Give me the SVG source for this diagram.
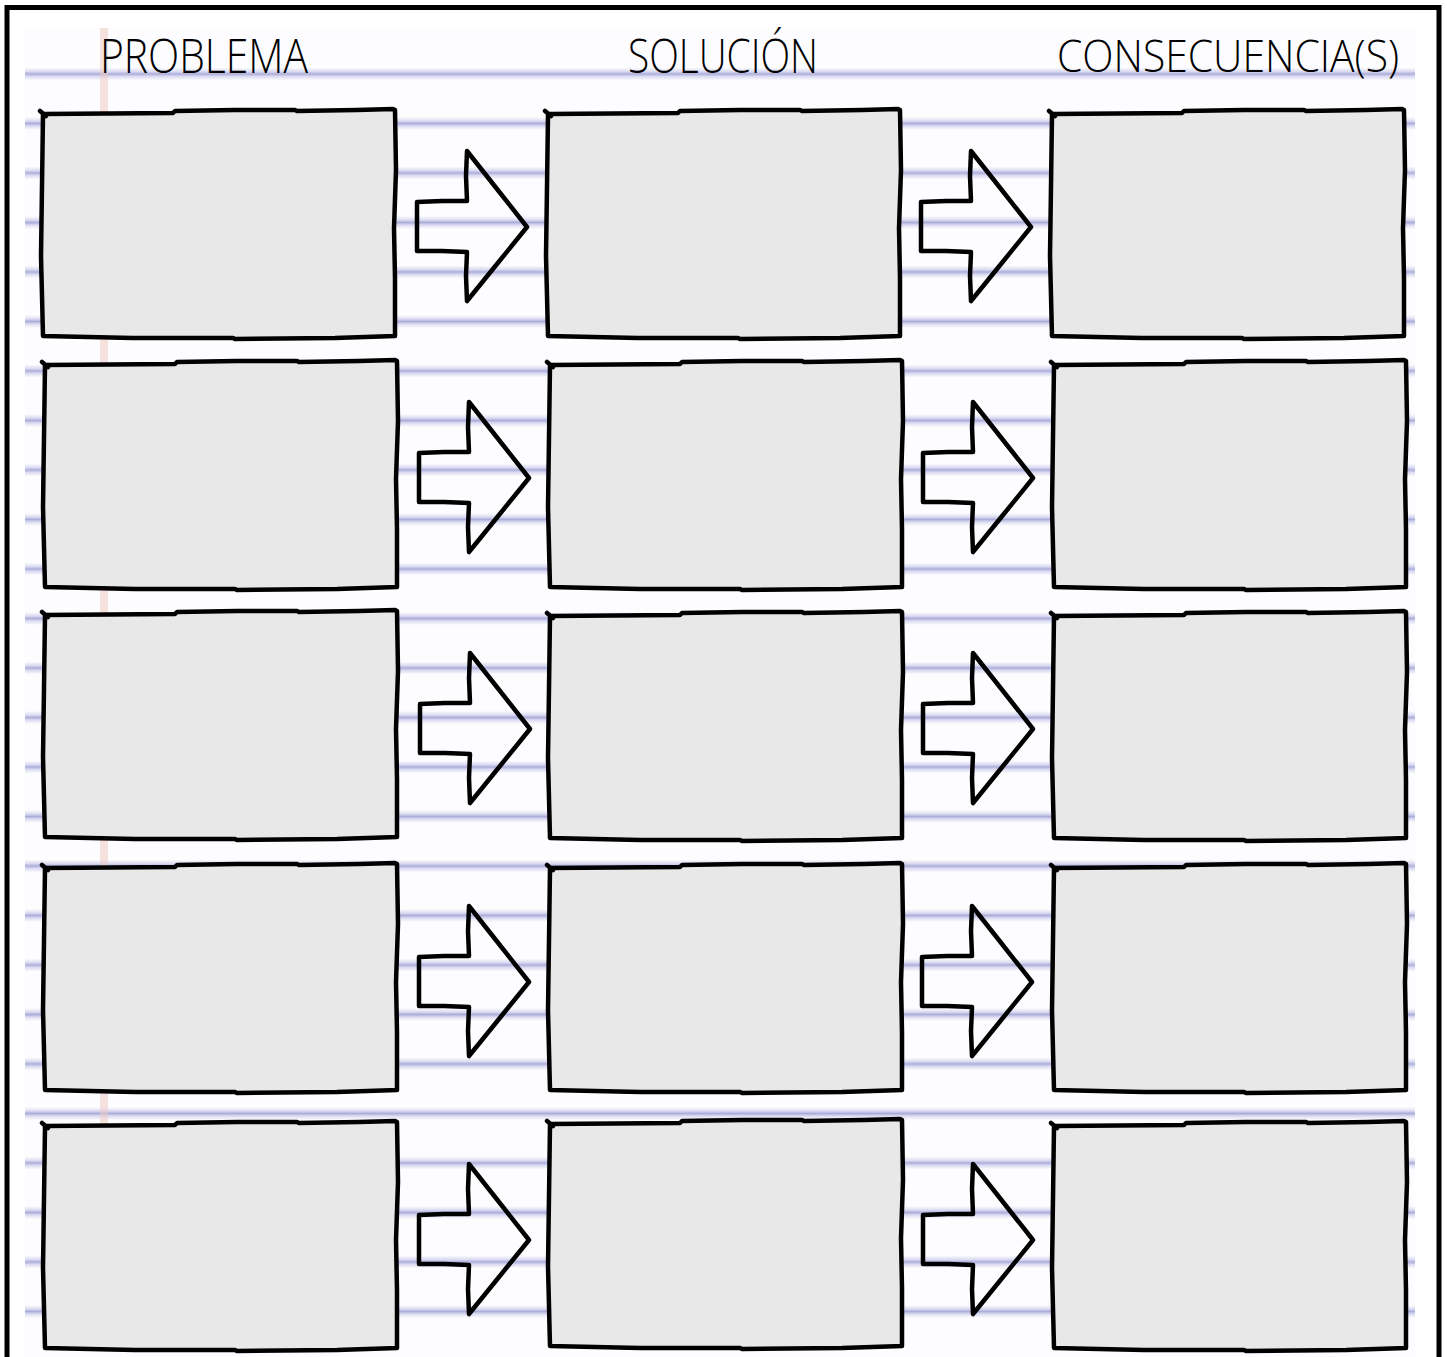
<svg xmlns="http://www.w3.org/2000/svg" xmlns:xlink="http://www.w3.org/1999/xlink" width="1447" height="1357" viewBox="0 0 1447 1357">
<defs>
<linearGradient id="lg" x1="0" y1="0" x2="0" y2="1">
<stop offset="0" stop-color="#b4b4e2" stop-opacity="0"/>
<stop offset="0.3" stop-color="#b4b4e2" stop-opacity="0.45"/>
<stop offset="0.5" stop-color="#a8a8d8" stop-opacity="0.95"/>
<stop offset="0.7" stop-color="#b4b4e2" stop-opacity="0.45"/>
<stop offset="1" stop-color="#b4b4e2" stop-opacity="0"/>
</linearGradient>
<rect id="ln" x="25" y="0" width="1390" height="13" fill="url(#lg)"/>
</defs>
<style>
.box{fill:#e8e8e8;stroke:#000;stroke-width:4.5;stroke-linejoin:round;stroke-linecap:round}
.arr{fill:none;stroke:#000;stroke-width:4.5;stroke-linejoin:round;stroke-linecap:round}
.arr2{fill:none;stroke:#000;stroke-width:2;stroke-linecap:round}
.hdr{font-family:"Open Sans","Liberation Sans",sans-serif;font-weight:300;font-size:48px;fill:#000}
</style>
<rect x="0" y="0" width="1447" height="1357" fill="#ffffff"/>
<g id="paper">
<rect x="25" y="28" width="1390" height="1329" fill="#fdfdff"/>
<use xlink:href="#ln" y="67.5"/>
<use xlink:href="#ln" y="117"/>
<use xlink:href="#ln" y="166.5"/>
<use xlink:href="#ln" y="216"/>
<use xlink:href="#ln" y="265.5"/>
<use xlink:href="#ln" y="315"/>
<use xlink:href="#ln" y="364.5"/>
<use xlink:href="#ln" y="414"/>
<use xlink:href="#ln" y="463.5"/>
<use xlink:href="#ln" y="513"/>
<use xlink:href="#ln" y="562.5"/>
<use xlink:href="#ln" y="612"/>
<use xlink:href="#ln" y="661.5"/>
<use xlink:href="#ln" y="711"/>
<use xlink:href="#ln" y="760.5"/>
<use xlink:href="#ln" y="810"/>
<use xlink:href="#ln" y="859.5"/>
<use xlink:href="#ln" y="909"/>
<use xlink:href="#ln" y="958.5"/>
<use xlink:href="#ln" y="1008"/>
<use xlink:href="#ln" y="1057.5"/>
<use xlink:href="#ln" y="1107"/>
<use xlink:href="#ln" y="1156.5"/>
<use xlink:href="#ln" y="1206"/>
<use xlink:href="#ln" y="1255.5"/>
<use xlink:href="#ln" y="1305"/>
<rect x="100" y="28" width="8" height="1102" fill="#eec8c0" opacity="0.5"/>
</g>
<rect x="7" y="7.5" width="1432" height="1365" fill="none" stroke="#000" stroke-width="5"/>
<g id="headers">
<text class="hdr" x="100" y="73" textLength="208" lengthAdjust="spacingAndGlyphs">PROBLEMA</text>
<text class="hdr" x="628" y="73" textLength="190" lengthAdjust="spacingAndGlyphs">SOLUCIÓN</text>
<text class="hdr" x="1057" y="72" style="font-size:44px" textLength="342" lengthAdjust="spacingAndGlyphs">CONSECUENCIA(S)</text>
</g>
<g id="connectors">
<g id="arrow-r1-c1"><path class="arr" d="M417,202 l25,-1 l25,0 l-1,-25 l1,-25 l30,38 l30,38 l-30,37 l-30,37 l-1,-25 l1,-24 l-25,-1 l-25,0 z"/><path class="arr2" d="M470,156 l55,68"/></g>
<g id="arrow-r1-c2"><path class="arr" d="M921,202 l25,-1 l25,0 l-1,-25 l1,-25 l30,38 l30,38 l-30,37 l-30,37 l-1,-25 l1,-24 l-25,-1 l-25,0 z"/><path class="arr2" d="M974,156 l55,68"/></g>
<g id="arrow-r2-c1"><path class="arr" d="M419,453 l25,-1 l25,0 l-1,-25 l1,-25 l30,38 l30,38 l-30,37 l-30,37 l-1,-25 l1,-24 l-25,-1 l-25,0 z"/><path class="arr2" d="M472,407 l55,68"/></g>
<g id="arrow-r2-c2"><path class="arr" d="M923,453 l25,-1 l25,0 l-1,-25 l1,-25 l30,38 l30,38 l-30,37 l-30,37 l-1,-25 l1,-24 l-25,-1 l-25,0 z"/><path class="arr2" d="M976,407 l55,68"/></g>
<g id="arrow-r3-c1"><path class="arr" d="M420,704 l25,-1 l25,0 l-1,-25 l1,-25 l30,38 l30,38 l-30,37 l-30,37 l-1,-25 l1,-24 l-25,-1 l-25,0 z"/><path class="arr2" d="M473,658 l55,68"/></g>
<g id="arrow-r3-c2"><path class="arr" d="M923,704 l25,-1 l25,0 l-1,-25 l1,-25 l30,38 l30,38 l-30,37 l-30,37 l-1,-25 l1,-24 l-25,-1 l-25,0 z"/><path class="arr2" d="M976,658 l55,68"/></g>
<g id="arrow-r4-c1"><path class="arr" d="M419,957 l25,-1 l25,0 l-1,-25 l1,-25 l30,38 l30,38 l-30,37 l-30,37 l-1,-25 l1,-24 l-25,-1 l-25,0 z"/><path class="arr2" d="M472,911 l55,68"/></g>
<g id="arrow-r4-c2"><path class="arr" d="M922,957 l25,-1 l25,0 l-1,-25 l1,-25 l30,38 l30,38 l-30,37 l-30,37 l-1,-25 l1,-24 l-25,-1 l-25,0 z"/><path class="arr2" d="M975,911 l55,68"/></g>
<g id="arrow-r5-c1"><path class="arr" d="M419,1215 l25,-1 l25,0 l-1,-25 l1,-25 l30,38 l30,38 l-30,37 l-30,37 l-1,-25 l1,-24 l-25,-1 l-25,0 z"/><path class="arr2" d="M472,1169 l55,68"/></g>
<g id="arrow-r5-c2"><path class="arr" d="M923,1215 l25,-1 l25,0 l-1,-25 l1,-25 l30,38 l30,38 l-30,37 l-30,37 l-1,-25 l1,-24 l-25,-1 l-25,0 z"/><path class="arr2" d="M976,1169 l55,68"/></g>
</g>
<g id="nodes">
<g id="box-r1-c1"><path class="box" d="M43,114 l130,-1 l2,-2 l60,-1 l60,0 l2,1 l60,-1 l36,-1 l2,1 l1,60 l-2,58 l1,50 l0,58 l-60,2 l-100,1 l-2,-1 l-100,0 l-90,-2 l-2,-80 l1,-70 l1,-72 z m-3,-3 l6,5"/></g>
<g id="box-r1-c2"><path class="box" d="M548,114 l130,-1 l2,-2 l60,-1 l60,0 l2,1 l60,-1 l36,-1 l2,1 l1,60 l-2,58 l1,50 l0,58 l-60,2 l-100,1 l-2,-1 l-100,0 l-90,-2 l-2,-80 l1,-70 l1,-72 z m-3,-3 l6,5"/></g>
<g id="box-r1-c3"><path class="box" d="M1052,114 l130,-1 l2,-2 l60,-1 l60,0 l2,1 l60,-1 l36,-1 l2,1 l1,60 l-2,58 l1,50 l0,58 l-60,2 l-100,1 l-2,-1 l-100,0 l-90,-2 l-2,-80 l1,-70 l1,-72 z m-3,-3 l6,5"/></g>
<g id="box-r2-c1"><path class="box" d="M45,365 l130,-1 l2,-2 l60,-1 l60,0 l2,1 l60,-1 l36,-1 l2,1 l1,60 l-2,58 l1,50 l0,58 l-60,2 l-100,1 l-2,-1 l-100,0 l-90,-2 l-2,-80 l1,-70 l1,-72 z m-3,-3 l6,5"/></g>
<g id="box-r2-c2"><path class="box" d="M550,365 l130,-1 l2,-2 l60,-1 l60,0 l2,1 l60,-1 l36,-1 l2,1 l1,60 l-2,58 l1,50 l0,58 l-60,2 l-100,1 l-2,-1 l-100,0 l-90,-2 l-2,-80 l1,-70 l1,-72 z m-3,-3 l6,5"/></g>
<g id="box-r2-c3"><path class="box" d="M1054,365 l130,-1 l2,-2 l60,-1 l60,0 l2,1 l60,-1 l36,-1 l2,1 l1,60 l-2,58 l1,50 l0,58 l-60,2 l-100,1 l-2,-1 l-100,0 l-90,-2 l-2,-80 l1,-70 l1,-72 z m-3,-3 l6,5"/></g>
<g id="box-r3-c1"><path class="box" d="M45,615 l130,-1 l2,-2 l60,-1 l60,0 l2,1 l60,-1 l36,-1 l2,1 l1,60 l-2,58 l1,50 l0,58 l-60,2 l-100,1 l-2,-1 l-100,0 l-90,-2 l-2,-80 l1,-70 l1,-72 z m-3,-3 l6,5"/></g>
<g id="box-r3-c2"><path class="box" d="M550,616 l130,-1 l2,-2 l60,-1 l60,0 l2,1 l60,-1 l36,-1 l2,1 l1,60 l-2,58 l1,50 l0,58 l-60,2 l-100,1 l-2,-1 l-100,0 l-90,-2 l-2,-80 l1,-70 l1,-72 z m-3,-3 l6,5"/></g>
<g id="box-r3-c3"><path class="box" d="M1054,616 l130,-1 l2,-2 l60,-1 l60,0 l2,1 l60,-1 l36,-1 l2,1 l1,60 l-2,58 l1,50 l0,58 l-60,2 l-100,1 l-2,-1 l-100,0 l-90,-2 l-2,-80 l1,-70 l1,-72 z m-3,-3 l6,5"/></g>
<g id="box-r4-c1"><path class="box" d="M45,868 l130,-1 l2,-2 l60,-1 l60,0 l2,1 l60,-1 l36,-1 l2,1 l1,60 l-2,58 l1,50 l0,58 l-60,2 l-100,1 l-2,-1 l-100,0 l-90,-2 l-2,-80 l1,-70 l1,-72 z m-3,-3 l6,5"/></g>
<g id="box-r4-c2"><path class="box" d="M550,868 l130,-1 l2,-2 l60,-1 l60,0 l2,1 l60,-1 l36,-1 l2,1 l1,60 l-2,58 l1,50 l0,58 l-60,2 l-100,1 l-2,-1 l-100,0 l-90,-2 l-2,-80 l1,-70 l1,-72 z m-3,-3 l6,5"/></g>
<g id="box-r4-c3"><path class="box" d="M1054,868 l130,-1 l2,-2 l60,-1 l60,0 l2,1 l60,-1 l36,-1 l2,1 l1,60 l-2,58 l1,50 l0,58 l-60,2 l-100,1 l-2,-1 l-100,0 l-90,-2 l-2,-80 l1,-70 l1,-72 z m-3,-3 l6,5"/></g>
<g id="box-r5-c1"><path class="box" d="M45,1126 l130,-1 l2,-2 l60,-1 l60,0 l2,1 l60,-1 l36,-1 l2,1 l1,60 l-2,58 l1,50 l0,58 l-60,2 l-100,1 l-2,-1 l-100,0 l-90,-2 l-2,-80 l1,-70 l1,-72 z m-3,-3 l6,5"/></g>
<g id="box-r5-c2"><path class="box" d="M550,1124 l130,-1 l2,-2 l60,-1 l60,0 l2,1 l60,-1 l36,-1 l2,1 l1,60 l-2,58 l1,50 l0,58 l-60,2 l-100,1 l-2,-1 l-100,0 l-90,-2 l-2,-80 l1,-70 l1,-72 z m-3,-3 l6,5"/></g>
<g id="box-r5-c3"><path class="box" d="M1054,1126 l130,-1 l2,-2 l60,-1 l60,0 l2,1 l60,-1 l36,-1 l2,1 l1,60 l-2,58 l1,50 l0,58 l-60,2 l-100,1 l-2,-1 l-100,0 l-90,-2 l-2,-80 l1,-70 l1,-72 z m-3,-3 l6,5"/></g>
</g>
</svg>
